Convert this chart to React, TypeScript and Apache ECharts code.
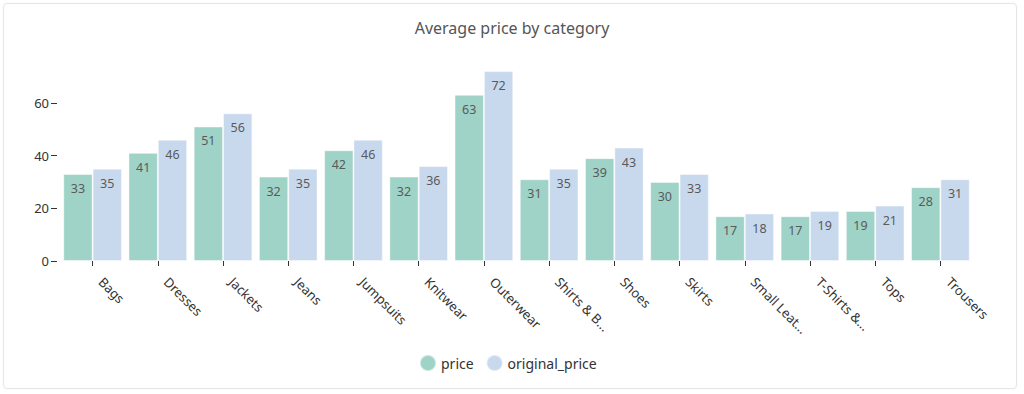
import React, { useEffect, useRef } from "react";
import * as echarts from "echarts";

const categories = [
  "Bags", "Dresses", "Jackets", "Jeans", "Jumpsuits", "Knitwear", "Outerwear",
  "Shirts & B...", "Shoes", "Skirts", "Small Leat...", "T-Shirts &...", "Tops", "Trousers",
];
const priceValues = [33, 41, 51, 32, 42, 32, 63, 31, 39, 30, 17, 17, 19, 28];
const originalPriceValues = [35, 46, 56, 35, 46, 36, 72, 35, 43, 33, 18, 19, 21, 31];
const yTicks = [0, 20, 40, 60];

const FONT = "'Noto Sans', sans-serif";

export default function App() {
  const ref = useRef<HTMLDivElement>(null);
  useEffect(() => {
    document.body.style.margin = "0";
    if (!ref.current) return;
    const chart = echarts.init(ref.current, undefined, { renderer: "svg" });
    const labelCfg = {
      show: true,
      position: "insideTop",
      distance: 8,
      color: "#5a5a5a",
      fontSize: 12.5,
      fontFamily: FONT,
      formatter: (p: any) => String(Math.round(p.value)),
    };
    chart.setOption({
      animation: false,
      textStyle: { fontFamily: FONT },
      title: {
        text: "Average price by category",
        left: "center",
        top: 15,
        textStyle: { fontSize: 16, fontWeight: "normal", color: "#555", fontFamily: FONT },
      },
      legend: {
        data: ["price", "original_price"],
        icon: "circle",
        itemWidth: 16,
        itemHeight: 16,
        itemGap: 12,
        top: 349,
        left: 414,
        textStyle: { fontSize: 14, color: "#333", fontFamily: FONT },
      },
      grid: { left: 60, right: 51, top: 50, bottom: 133 },
      xAxis: {
        type: "category",
        data: categories,
        axisLine: { show: false },
        axisTick: { show: true, alignWithLabel: true, length: 5, lineStyle: { color: "#333" } },
        axisLabel: {
          rotate: -45,
          margin: 10,
          padding: [0, 0, 0, 12],
          fontSize: 13,
          color: "#333",
          fontFamily: FONT,
          interval: 0,
        },
      },
      yAxis: {
        type: "value",
        min: 0,
        max: 80,
        interval: 20,
        offset: 3,
        splitLine: { show: false },
        axisLine: { show: false },
        axisTick: { show: true, length: 6, lineStyle: { color: "#333" }, customValues: yTicks },
        axisLabel: { fontSize: 13, color: "#333", margin: 8, fontFamily: FONT, customValues: yTicks },
      },
      series: [
        {
          name: "price",
          type: "bar",
          data: priceValues,
          barGap: "0%",
          barCategoryGap: "10%",
          itemStyle: { color: "#9fd3c7", borderColor: "rgba(255,255,255,0.45)", borderWidth: 1 },
          label: labelCfg,
        },
        {
          name: "original_price",
          type: "bar",
          data: originalPriceValues,
          barGap: "0%",
          barCategoryGap: "10%",
          itemStyle: { color: "#c9d9ed", borderColor: "rgba(255,255,255,0.45)", borderWidth: 1 },
          label: labelCfg,
        },
      ],
    });
    return () => chart.dispose();
  }, []);
  return (
    <div style={{ position: "relative", width: 1024, height: 394, background: "#fff" }}>
      <div
        style={{
          position: "absolute",
          left: 3,
          top: 3,
          width: 1012,
          height: 384,
          border: "1px solid #e6e6e6",
          borderRadius: 4,
          boxShadow: "0 0 2px rgba(0,0,0,0.05)",
        }}
      />
      <div ref={ref} style={{ position: "absolute", left: 0, top: 0, width: 1024, height: 394 }} />
    </div>
  );
}
